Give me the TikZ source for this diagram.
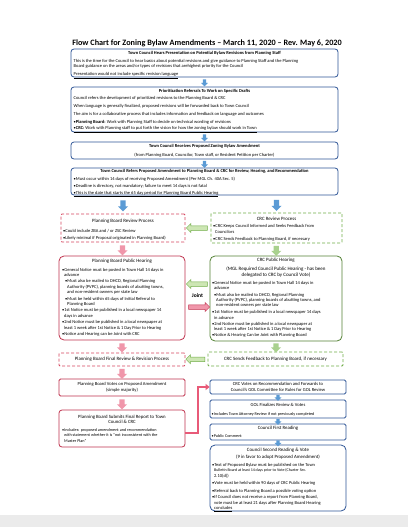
\documentclass[tikz,border=0pt]{standalone}
\usepackage{fontspec}
\setmainfont{Carlito}
\usetikzlibrary{shapes.arrows,arrows.meta,calc}
\definecolor{bb}{RGB}{47,85,151}
\definecolor{rr}{RGB}{192,50,77}
\definecolor{rd}{RGB}{214,70,95}
\definecolor{gg}{RGB}{84,130,53}
\definecolor{gd}{RGB}{112,173,71}
\definecolor{ba}{RGB}{91,155,213}
\definecolor{pa}{RGB}{240,150,170}
\definecolor{ga}{RGB}{169,209,142}
\definecolor{gal}{RGB}{205,230,180}
\definecolor{pl}{RGB}{232,90,120}
\tikzset{
 box/.style={inner sep=0pt, line width=0.8pt},
 bluebox/.style={box, draw=bb, rounded corners=3pt},
 redbox/.style={box, draw=rr, rounded corners=5pt},
 redsq/.style={box, draw=rr, rounded corners=1.5pt},
 reddash/.style={box, draw=rd, dashed, dash pattern=on 3pt off 2pt, rounded corners=1pt},
 greenbox/.style={box, draw=gg, rounded corners=5pt},
 greendash/.style={box, draw=gd, dashed, dash pattern=on 3pt off 2pt, rounded corners=1pt},
 ttl/.style={inner sep=0pt, font=\bfseries\fontsize{4.5}{5.4}\selectfont, align=center},
 stl/.style={inner sep=0pt, font=\fontsize{4.9}{5.8}\selectfont, align=center},
 txt/.style={inner sep=0pt, font=\fontsize{4.5}{5.2}\selectfont, align=left, anchor=north west},
 stx/.style={inner sep=0pt, font=\fontsize{4.5}{5.4}\selectfont, align=left, anchor=north west},
 blueDown/.style={single arrow, fill=ba, inner sep=1.5pt, single arrow head extend=1.7pt, minimum height=7pt, shape border rotate=270},
 pinkDown/.style={single arrow, fill=pa, inner sep=2.4pt, single arrow head extend=2.4pt, minimum height=10pt, shape border rotate=270},
 greenDown/.style={single arrow, fill=ga, inner sep=2.4pt, single arrow head extend=2.4pt, minimum height=10pt, shape border rotate=270},
 greenLeft/.style={single arrow, fill=gal, draw=gd, line width=0.5pt, inner sep=2pt, single arrow head extend=2.2pt, minimum height=21pt, shape border rotate=180},
 pinkRight/.style={single arrow, fill=pa, draw=rr, line width=0.5pt, inner sep=2pt, single arrow head extend=2.2pt, minimum height=21pt, shape border rotate=0},
}
\begin{document}
\begin{tikzpicture}[x=1pt,y=-1pt]
\useasboundingbox (0,0) rectangle (408,527);
\fill[white] (0,0) rectangle (408,527);
\fill[black!8] (0,515) rectangle (408,527);

\node[inner sep=0pt, font=\bfseries\fontsize{8.2}{9.5}\selectfont] (title) at (207,43) {Flow Chart for Zoning Bylaw Amendments – March 11, 2020 – Rev. May 6, 2020};

% top blue boxes
\node[bluebox, minimum width=267pt, minimum height=28pt] (b1) at (204.5,63) {};
\node[ttl] (b1t) at (204.5,53.5) {Town Council Hears Presentation on Potential Bylaw Revisions from Planning Staff};
\node[txt] (b1x) at (73.5,59) {This is the time for the Council to hear basics about potential revisions and give guidance to Planning Staff and the Planning\\
Board guidance on the areas and/or types of revisions that arehighest priority for the Council\\[3pt]
\underline{Presentation would not include specific revision language}};

\node[bluebox, minimum width=267pt, minimum height=45pt] (b2) at (204.5,109.5) {};
\node[ttl] (b2t) at (204.5,91) {Prioritization Referrals To Work on Specific Drafts};
\node[txt] (b2x) at (73.5,96) {Council refers the development of prioritized revisions to the Planning Board \& CRC\\[3pt]
When language is generally finalized, proposed revisions will be forwarded back to Town Council\\[3pt]
The aim is for a collaborative process that includes information and feedback on language and outcomes\\[3pt]
•\textbf{Planning Board:} Work with Planning Staff to decide on technical wording of revisions\\[0.8pt]
\underline{•\textbf{CRC:} Work with Planning staff to put forth the vision for how the zoning bylaw should work in Town}};

\node[bluebox, minimum width=267pt, minimum height=17pt] (b3) at (204.5,150.5) {};
\node[ttl] (b3t) at (204.5,146.3) {Town Council Receives Proposed Zoning Bylaw Amendment};
\node[inner sep=0pt, font=\fontsize{4.5}{5.2}\selectfont] (b3x) at (204.5,154.8) {(from Planning Board, Councilor, Town staff, or Resident Petition per Charter)};

\node[bluebox, minimum width=267pt, minimum height=27pt] (b4) at (204.5,181.5) {};
\node[ttl] (b4t) at (204.5,171.5) {Town Council Refers Proposed Amendment to Planning Board \& CRC for Review, Hearing, and Recommendation};
\node[txt] (b4x) at (73.5,177) {•Must occur within 14 days of receiving Proposed Amendment (Per MGL Ch. 40A Sec. 5)\\[1.8pt]
•Deadline is directory, not mandatory; failure to meet 14 days is not fatal\\[1.8pt]
\underline{•This is the date that starts the 65 day period for Planning Board Public Hearing}};

\node[blueDown] (a1) at ($(b1.south)!.5!(b2.north)$) {};
\node[blueDown] (a2) at ($(b2.south)!.5!(b3.north)$) {};
\node[blueDown] (a3) at ($(b3.south)!.5!(b4.north)$) {};

% review processes
\node[reddash, minimum width=124pt, minimum height=28pt] (pbr) at (123,228) {};
\node[stl] (pbrt) at (123,221) {Planning Board Review Process};
\node[stx] (pbrx) at (63,229.5) {•Could include ZBA and / or ZSC Review\\[0.8pt]
•Likely minimal if Proposal originated in Planning Board)};

\node[greendash, minimum width=131pt, minimum height=30pt] (crcr) at (276.5,228) {};
\node[stl] (crcrt) at (276.5,218.5) {CRC Review Process};
\node[stx] (crcrx) at (213,224.5) {•CRC Keeps Council Informed and Seeks Feedback from\\
\hspace*{2pt}Councilors\\[2pt]
•CRC Sends Feedback to Planning Board, if necessary};

\node[blueDown, inner sep=2.4pt, single arrow head extend=2.4pt, minimum height=11pt] (a4) at ($(pbr.north)!.5!(pbr.north|-b4.south)$) {};
\node[blueDown, inner sep=2.4pt, single arrow head extend=2.4pt, minimum height=11pt] (a5) at ($(crcr.north)!.5!(crcr.north|-b4.south)$) {};
\node[greenLeft] (a6) at ($(pbr.east)!.5!(crcr.west)$) {};

% public hearings
\node[redbox, minimum width=126pt, minimum height=84pt] (pbh) at (122,298) {};
\node[stl] (pbht) at (122,261.5) {Planning Board Public Hearing};
\node[stx] (pbhx) at (62,267.7) {•General Notice must be posted in Town Hall 14 days in\\
\hspace*{2pt}advance\\[1pt]
\hspace*{3pt}•Must also be mailed to DHCD, Regional Planning\\
\hspace*{5pt}Authority (PVPC), planning boards of abutting towns,\\
\hspace*{5pt}and non-resident owners per state law\\[1pt]
\hspace*{3pt}•Must be held within 65 days of Initial Referral to\\
\hspace*{5pt}Planning Board\\[1pt]
•1st Notice must be published in a local newspaper 14\\
\hspace*{2pt}days in advance\\[1pt]
•2nd Notice must be published in a local newspaper at\\
\hspace*{2pt}least 1 week after 1st Notice \& 1 Day Prior to Hearing\\[1pt]
•Notice and Hearing can be Joint with CRC};

\node[greenbox, minimum width=132pt, minimum height=85pt] (crch) at (276,298.5) {};
\node[stl] (crcht) at (276,260.5) {CRC Public Hearing};
\node[stl, font=\fontsize{5}{6}\selectfont] (crchs) at (276,272) {(MGL Required Council Public Hearing - has been\\ delegated to CRC by Council Vote)};
\node[stx] (crchx) at (212,280.7) {•General Notice must be posted in Town Hall 14 days in\\
\hspace*{2pt}advance\\[1.3pt]
\hspace*{2pt}•Must also be mailed to DHCD, Regional Planning\\
\hspace*{4pt}Authority (PVPC), planning boards of abutting towns, and\\
\hspace*{4pt}non-resident owners per state law\\[1.3pt]
•1st Notice must be published in a local newspaper 14 days\\
\hspace*{2pt}in advance\\[0.8pt]
•2nd Notice must be published in a local newspaper at\\
\hspace*{2pt}least 1 week after 1st Notice \& 1 Day Prior to Hearing\\
•Notice \& Hearing Can be Joint with Planning Board};

\node[pinkDown] (a7) at ($(pbr.south)!.5!(pbh.north)$) {};
\node[greenDown] (a8) at ($(crcr.south)!.5!(crch.north)$) {};
\node[greenLeft] (a9) at (198,284) {};
\node[inner sep=0pt, font=\bfseries\fontsize{5.6}{6.5}\selectfont] (joint) at (197.5,295.5) {Joint};
\node[pinkRight] (a10) at (198,307) {};

% final review
\node[reddash, minimum width=126pt, minimum height=13pt] (pbf) at (122,359.5) {};
\node[stl] (pbft) at (122,359.5) {Planning Board Final Review \& Revision Process};
\node[greendash, minimum width=135pt, minimum height=14pt] (crcf) at (275.5,359) {};
\node[stl] (crcft) at (275.5,359) {CRC Sends Feedback to Planning Board, if necessary};
\node[pinkDown, minimum height=9pt] (a11) at ($(pbh.south)!.5!(pbh.south|-pbf.north)$) {};
\node[greenDown, minimum height=9pt] (a12) at ($(crch.south)!.5!(crch.south|-crcf.north)$) {};
\node[greenLeft, minimum height=19pt] (a13) at ($(pbf.east)!.5!(crcf.west)$) {};

% votes
\node[redsq, minimum width=126pt, minimum height=17pt] (pbv) at (122,387.5) {};
\node[stl, font=\fontsize{4.6}{6.3}\selectfont] (pbvt) at (122,387.5) {Planning Board Votes on Proposed Amendment\\(simple majority)};
\node[pinkDown, minimum height=10pt] (a14) at ($(pbf.south)!.5!(pbv.north)$) {};

\node[redbox, rounded corners=3pt, minimum width=126pt, minimum height=37pt] (rep) at (122,428.5) {};
\node[stl, font=\fontsize{4.8}{5.6}\selectfont] (rept) at (122,419.3) {Planning Board Submits Final Report to Town\\Council \& CRC};
\node[stx, font=\fontsize{4.2}{5.4}\selectfont] (repx) at (62,428.2) {•Includes: proposed amendment and recommendation\\
\hspace*{2pt}with statement whether it is "not inconsistent with the\\
\hspace*{2pt}Master Plan"};
\node[pinkDown, minimum height=10pt] (a15) at ($(pbv.south)!.5!(rep.north)$) {};

\node[bluebox, rounded corners=1.5pt, minimum width=136pt, minimum height=14pt] (cv) at (278,387) {};
\node[stl, font=\fontsize{4.6}{6.2}\selectfont] (cvt) at (278,387.3) {CRC Votes on Recommendation and Forwards to\\Council's GOL Committee for Rules for GOL Review};

\node[bluebox, rounded corners=1.5pt, minimum width=136pt, minimum height=18pt] (gol) at (278,409) {};
\node[stl, font=\fontsize{4.6}{5.4}\selectfont] (golt) at (278,404.8) {GOL Finalizes Review \& Votes};
\node[stx, font=\fontsize{4.2}{5}\selectfont] (golx) at (211.5,412) {•Includes Town Attorney Review if not previously completed};

\node[bluebox, rounded corners=1.5pt, minimum width=136pt, minimum height=16pt] (cfr) at (278,432) {};
\node[stl, font=\fontsize{4.8}{5.6}\selectfont] (cfrt) at (278,428) {Council First Reading};
\node[stx, font=\fontsize{4.2}{5}\selectfont] (cfrx) at (211.5,434.2) {•Public Comment};

\node[bluebox, rounded corners=5pt, minimum width=136pt, minimum height=66pt] (csr) at (278,478) {};
\node[stl, font=\fontsize{4.9}{5.8}\selectfont] (csrt) at (278,450.5) {Council Second Reading \& Vote};
\node[stl, font=\fontsize{4.8}{5.8}\selectfont] (csrs) at (278,457.3) {(9 in favor to adopt Proposed Amendment)};
\node[stx] (csrx) at (212,463) {•Text of Proposed Bylaw must be published on the Town\\
{\fontsize{4}{5}\selectfont\hspace*{2pt}Bulletin Board at least 14 days prior to Vote (Charter Sec.}\\
\hspace*{2pt}2.10(d))\\[2.4pt]
•Vote must be held within 90 days of CRC Public Hearing\\[2.4pt]
•Referral back to Planning Board a possible voting option\\[0.8pt]
•If Council does not receive a report from Planning Board,\\
\hspace*{2pt}vote must be at least 21 days after Planning Board Hearing\\
\hspace*{2pt}\underline{concludes}};

\node[blueDown, minimum height=6pt] (a16) at ($(cv.south)!.5!(gol.north)$) {};
\node[blueDown, minimum height=6pt] (a17) at ($(gol.south)!.5!(cfr.north)$) {};
\node[blueDown, minimum height=6pt] (a18) at ($(cfr.south)!.5!(csr.north)$) {};

\draw[pl, line width=2pt, -{Triangle[length=4pt,width=6pt]}] ([yshift=-4.5pt]rep.east) -- ++(13,0) |- (cv.west);
\end{tikzpicture}
\end{document}
